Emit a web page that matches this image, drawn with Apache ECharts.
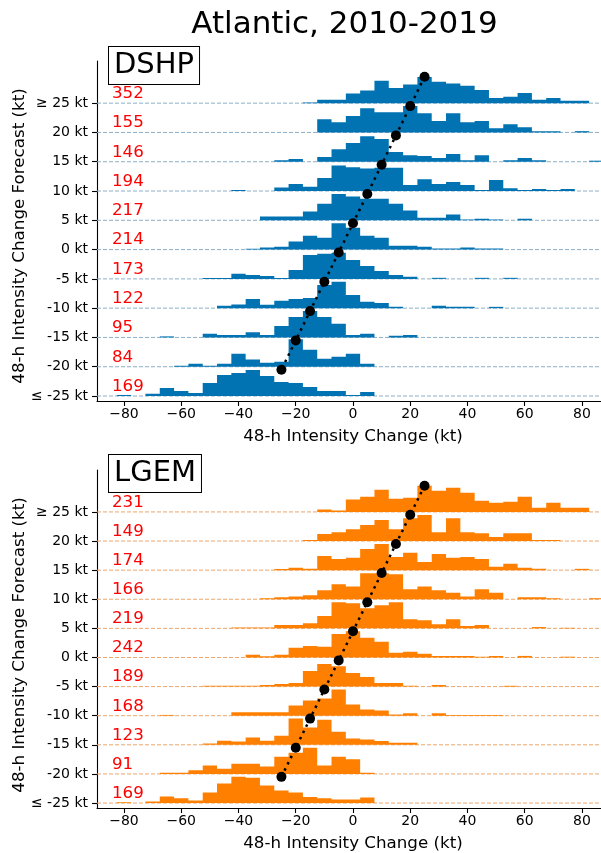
<!DOCTYPE html>
<html>
<head>
<meta charset="utf-8">
<script src="https://cdn.jsdelivr.net/npm/echarts@6/dist/echarts.min.js"></script>
<style>
  html, body { margin: 0; padding: 0; background: #fff; }
  #chart { width: 601px; height: 853px; }
</style>
</head>
<body>
<div id="chart"></div>
<script>
// 5-kt bins of observed 48-h intensity change (bin centres, kt)
const binCenters = [-85, -80, -75, -70, -65, -60, -55, -50, -45, -40, -35, -30, -25, -20, -15,
  -10, -5, 0, 5, 10, 15, 20, 25, 30, 35, 40, 45, 50, 55, 60, 65, 70, 75, 80, 85];

// forecast categories, top to bottom (kt)
const forecastRows = [25, 20, 15, 10, 5, 0, -5, -10, -15, -20, -25];
const rowTickLabels = ['≥ 25 kt', '20 kt', '15 kt', '10 kt', '5 kt', '0 kt', '-5 kt', '-10 kt', '-15 kt', '-20 kt', '≤ -25 kt'];
const xTicks = [-80, -60, -40, -20, 0, 20, 40, 60, 80];

// number of cases in each forecast category
const dshpCounts = [352, 155, 146, 194, 217, 214, 173, 122, 95, 84, 169];
const lgemCounts = [231, 149, 174, 166, 219, 242, 189, 168, 123, 91, 169];

// relative frequency per bin, each row scaled so that 100 = reference peak
const dshpHeights = [
  [0,0,0,0,0, 0,0,0,0,0, 0,0,0,0,3, 13,13,37,48,85, 58,71,99,81,75, 66,50,20,24,39, 13,20,9,9,0],
  [0,0,0,0,0, 0,0,0,0,0, 0,0,0,0,0, 50,39,62,92,77, 77,100,73,43,73, 39,43,16,31,20, 5,5,0,5,0],
  [0,0,0,0,0, 0,0,0,0,0, 0,0,6,10,0, 18,47,71,97,86, 37,25,22,14,29, 6,25,0,6,14, 6,0,0,0,4],
  [0,0,0,0,0, 0,0,0,0,4, 0,0,13,27,16, 49,97,90,85,88, 88,23,45,27,34, 23,4,42,11,4, 8,4,8,0,0],
  [0,0,0,0,0, 0,0,0,0,0, 0,14,14,14,33, 63,100,90,82,82, 63,37,10,10,22, 3,6,3,0,6, 0,0,0,0,0],
  [0,0,0,0,0, 0,0,0,0,0, 3,8,11,31,53, 45,100,83,53,45, 15,15,11,4,4, 8,4,4,0,0, 0,0,0,0,0],
  [0,0,0,0,0, 0,0,3,3,19, 15,11,3,34,91, 95,99,72,49,30, 15,8,0,4,0, 0,4,0,4,0, 0,0,0,0,0],
  [0,0,0,0,0, 0,0,0,9,14, 35,13,28,35,39, 88,100,50,24,20, 5,0,0,9,5, 5,0,5,0,0, 0,0,0,0,0],
  [0,0,0,0,4, 0,0,14,9,9, 20,9,43,78,100, 78,52,9,14,0, 6,9,0,0,0, 0,0,0,0,0, 0,0,0,0,0],
  [0,0,0,0,0, 4,11,4,11,49, 27,15,19,104,64, 30,38,49,11,0, 0,0,0,0,0, 0,0,0,0,0, 0,0,0,0,0],
  [0,4,0,9,30, 19,11,49,80,87, 99,76,53,49,34, 19,19,4,15,0, 0,0,0,0,0, 0,0,0,0,0, 0,0,0,0,0]
];
const lgemHeights = [
  [0,0,0,0,0, 0,0,0,0,0, 0,0,0,0,0, 9,5,47,58,85, 50,54,100,81,92, 73,43,35,39,58, 16,35,16,16,0],
  [0,0,0,0,0, 0,0,0,0,0, 0,0,0,0,4, 27,34,45,61,80, 45,87,99,34,87, 34,30,15,30,30, 4,4,0,0,0],
  [0,0,0,0,0, 0,0,0,0,0, 0,0,4,9,5, 54,43,47,81,100, 50,66,31,62,47, 50,43,13,24,9, 5,0,0,5,0],
  [0,0,0,0,0, 0,0,0,0,0, 0,4,8,11,15, 34,57,49,99,99, 95,38,49,34,25, 11,38,25,0,8, 8,4,0,0,4],
  [0,0,0,0,0, 0,0,0,0,3, 3,3,13,13,20, 47,100,96,77,88, 100,35,31,16,35, 9,13,0,0,0, 5,0,2,0,0],
  [0,0,0,0,0, 0,0,0,0,0, 10,5,10,37,44, 41,90,100,75,60, 18,22,14,6,6, 6,3,6,0,6, 0,0,3,0,0],
  [0,0,0,0,0, 0,0,3,3,3, 3,6,10,14,60, 86,78,52,37,14, 14,3,0,6,0, 0,0,0,3,0, 0,0,0,0,0],
  [0,0,0,0,3, 0,0,0,0,13, 13,13,13,39,58, 66,100,43,24,20, 5,9,0,9,3, 3,3,3,0,0, 0,0,0,0,0],
  [0,0,0,0,0, 0,0,5,16,13, 28,16,35,100,66, 96,50,24,20,15, 8,8,0,0,0, 0,0,0,0,0, 0,0,0,0,0],
  [0,0,0,0,5, 5,14,32,20,39, 39,28,66,81,100, 32,66,56,5,0, 0,0,0,0,0, 0,0,0,0,0, 0,0,0,0,0],
  [0,3,0,6,25, 18,10,40,75,100, 97,67,48,40,23, 18,14,14,21,0, 0,0,0,0,0, 0,0,0,0,0, 0,0,0,0,0]
];

// drawing constants
const FONT = 'DejaVu Sans';
const BIN_WIDTH = 5;          // kt
const RIDGE_HEIGHT = 4.5;     // y-units spanned by a relative height of 100
const X_MIN = -89.43, X_MAX = 86.64;
const Y_MIN = -25.85, Y_MAX = 32.2;

const panels = [
  { model: 'DSHP', barColor: '#0173b2', baseColor: '#8eb0c9', counts: dshpCounts, heights: dshpHeights, top: 61, boxTop: 46 },
  { model: 'LGEM', barColor: '#ff8000', baseColor: '#eba66c', counts: lgemCounts, heights: lgemHeights, top: 470, boxTop: 454 }
];

const fmtTick = v => (v < 0 ? '\u2212' + (-v) : String(v));
const rowLabelFor = v => rowTickLabels[forecastRows.indexOf(v)];

const grids = [], xAxes = [], yAxes = [], series = [], graphics = [];

panels.forEach((p, i) => {
  grids.push({ left: 97, top: p.top, width: 504, height: 340, containLabel: false });

  xAxes.push({
    type: 'value', gridIndex: i, min: X_MIN, max: X_MAX,
    axisLine: { show: true, onZero: false, lineStyle: { color: '#000', width: 1.1 } },
    axisTick: { show: true, customValues: xTicks, length: 5, lineStyle: { color: '#000', width: 1.1 } },
    axisLabel: { show: true, customValues: xTicks, formatter: fmtTick, color: '#000', fontSize: 14, fontFamily: FONT, margin: 6 },
    splitLine: { show: false },
    name: '48-h Intensity Change (kt)', nameLocation: 'middle', nameGap: 27,
    nameTextStyle: { color: '#000', fontSize: 16.7, fontFamily: FONT, padding: [0, 0, 0, 8] }
  });

  yAxes.push({
    type: 'value', gridIndex: i, min: Y_MIN, max: Y_MAX,
    axisLine: { show: true, onZero: false, lineStyle: { color: '#000', width: 1.1 } },
    axisTick: { show: true, customValues: forecastRows, length: 5, lineStyle: { color: '#000', width: 1.1 } },
    axisLabel: { show: true, customValues: forecastRows, formatter: rowLabelFor, color: '#000', fontSize: 14, fontFamily: FONT, margin: 9 },
    splitLine: { show: false }
  });

  // dashed baseline of each ridge
  const baseColor = p.baseColor;
  series.push({
    type: 'custom', xAxisIndex: i, yAxisIndex: i, z: 1, silent: true,
    itemStyle: { color: baseColor },
    data: forecastRows.map(r => [r]),
    renderItem: (params, api) => {
      const a = api.coord([X_MIN, api.value(0)]);
      const b = api.coord([X_MAX, api.value(0)]);
      return { type: 'line', shape: { x1: a[0], y1: a[1], x2: b[0], y2: b[1] },
        style: { stroke: baseColor, fill: null, lineWidth: 1, lineDash: [4, 2] } };
    }
  });

  // histogram of one ridge: each run of non-empty bins drawn as a single step polygon
  series.push({
    type: 'custom', xAxisIndex: i, yAxisIndex: i, z: 2, silent: true,
    itemStyle: { color: p.barColor },
    data: forecastRows.map((r, k) => [r, k]),
    renderItem: (params, api) => {
      const r = api.value(0), hs = p.heights[api.value(1)];
      const children = [];
      let pts = null;
      hs.forEach((h, j) => {
        const c = binCenters[j];
        if (h > 0) {
          const top = r + h / 100 * RIDGE_HEIGHT;
          if (!pts) pts = [api.coord([c - BIN_WIDTH / 2, r])];
          pts.push(api.coord([c - BIN_WIDTH / 2, top]), api.coord([c + BIN_WIDTH / 2, top]));
        }
        if (pts && (h <= 0 || j === hs.length - 1)) {
          const edge = h > 0 ? c + BIN_WIDTH / 2 : c - BIN_WIDTH / 2;
          pts.push(api.coord([edge, r]));
          children.push({ type: 'polygon', shape: { points: pts }, style: { fill: p.barColor } });
          pts = null;
        }
      });
      return { type: 'group', children };
    }
  });

  // case counts above each baseline
  series.push({
    type: 'custom', xAxisIndex: i, yAxisIndex: i, z: 4, silent: true,
    data: forecastRows.map((r, k) => [r, p.counts[k]]),
    renderItem: (params, api) => {
      const pt = api.coord([X_MIN, api.value(0)]);
      return { type: 'text', x: 112, y: pt[1] - 9.5,
        style: { text: String(api.value(1)), fill: '#ff0000', fontSize: 16.7, fontFamily: FONT,
          align: 'left', verticalAlign: 'middle' } };
    }
  });

  // forecast value marked at the top of each ridge
  series.push({
    type: 'line', xAxisIndex: i, yAxisIndex: i, z: 5, silent: true,
    data: forecastRows.map(r => [r, r + RIDGE_HEIGHT]),
    lineStyle: { color: '#000', width: 2.5, type: [2.5, 4.5], cap: 'butt' },
    symbol: 'circle', symbolSize: 10, showSymbol: true,
    itemStyle: { color: '#000' }
  });

  // model name box
  graphics.push({
    type: 'text', left: 108, top: p.boxTop, z: 10,
    style: { text: p.model, fontSize: 29, fontFamily: FONT, fill: '#000', lineHeight: 33,
      backgroundColor: '#fff', borderColor: '#000', borderWidth: 1, padding: [2, 5, 2, 5] }
  });

  // y-axis title
  graphics.push({
    type: 'text', x: 20, y: p.top + 175, rotation: Math.PI / 2, z: 10,
    style: { text: '48-h Intensity Change Forecast (kt)', fontSize: 16.7, fontFamily: FONT, fill: '#000',
      align: 'center', verticalAlign: 'middle' }
  });
});

graphics.push({
  type: 'text', x: 344.5, y: 25, z: 10,
  style: { text: 'Atlantic, 2010-2019', fontSize: 31, fontFamily: FONT, fill: '#000',
    align: 'center', verticalAlign: 'middle' }
});

const chart = echarts.init(document.getElementById('chart'), null, { renderer: 'canvas' });
chart.setOption({
  backgroundColor: '#fff',
  animation: false,
  grid: grids,
  xAxis: xAxes,
  yAxis: yAxes,
  series: series,
  graphic: graphics
});
</script>
</body>
</html>
